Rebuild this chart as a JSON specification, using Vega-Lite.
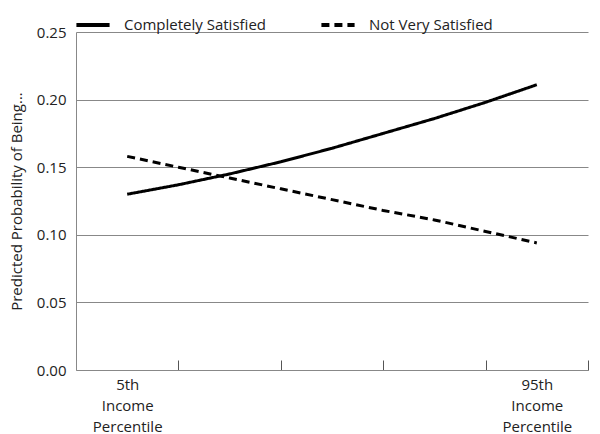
{
  "$schema": "https://vega.github.io/schema/vega-lite/v6.json",
  "width": 512,
  "height": 338,
  "autosize": "none",
  "padding": {"left": 76, "top": 32, "right": 12, "bottom": 64},
  "background": "white",
  "config": {
    "font": "Open Sans",
    "view": {"stroke": null}
  },
  "data": {
    "values": [
      {"pos": 0.5, "prob": 0.130, "series": "Completely Satisfied"},
      {"pos": 1.0, "prob": 0.137, "series": "Completely Satisfied"},
      {"pos": 1.5, "prob": 0.145, "series": "Completely Satisfied"},
      {"pos": 2.0, "prob": 0.154, "series": "Completely Satisfied"},
      {"pos": 2.5, "prob": 0.164, "series": "Completely Satisfied"},
      {"pos": 3.0, "prob": 0.175, "series": "Completely Satisfied"},
      {"pos": 3.5, "prob": 0.186, "series": "Completely Satisfied"},
      {"pos": 4.0, "prob": 0.198, "series": "Completely Satisfied"},
      {"pos": 4.5, "prob": 0.211, "series": "Completely Satisfied"},
      {"pos": 0.5, "prob": 0.158, "series": "Not Very Satisfied"},
      {"pos": 1.0, "prob": 0.150, "series": "Not Very Satisfied"},
      {"pos": 1.5, "prob": 0.142, "series": "Not Very Satisfied"},
      {"pos": 2.0, "prob": 0.134, "series": "Not Very Satisfied"},
      {"pos": 2.5, "prob": 0.126, "series": "Not Very Satisfied"},
      {"pos": 3.0, "prob": 0.118, "series": "Not Very Satisfied"},
      {"pos": 3.5, "prob": 0.111, "series": "Not Very Satisfied"},
      {"pos": 4.0, "prob": 0.1025, "series": "Not Very Satisfied"},
      {"pos": 4.5, "prob": 0.094, "series": "Not Very Satisfied"}
    ]
  },
  "mark": {"type": "line", "color": "black", "strokeWidth": 3},
  "encoding": {
    "x": {
      "field": "pos",
      "type": "quantitative",
      "scale": {"domain": [0, 5], "nice": false, "zero": false},
      "axis": {
        "title": null,
        "values": [0.5, 1, 2, 3, 4, 4.5, 5],
        "grid": false,
        "domainColor": "#888888",
        "tickColor": "#555555",
        "tickSize": -10,
        "tickOpacity": {"condition": {"test": "datum.value % 1 != 0", "value": 0}, "value": 1},
        "labelExpr": "datum.value == 0.5 ? ['5th', 'Income', 'Percentile'] : datum.value == 4.5 ? ['95th', 'Income', 'Percentile'] : ''",
        "labelFontSize": 15,
        "labelLineHeight": 21,
        "labelColor": "#222222",
        "labelPadding": 17,
        "labelFlush": false,
        "labelOverlap": false
      }
    },
    "y": {
      "field": "prob",
      "type": "quantitative",
      "scale": {"domain": [0, 0.25], "nice": false},
      "axis": {
        "title": "Predicted Probability of Being...",
        "titleFontSize": 15,
        "titleFontWeight": "normal",
        "titleColor": "#222222",
        "titlePadding": 12,
        "values": [0, 0.05, 0.1, 0.15, 0.2, 0.25],
        "format": ".2f",
        "grid": true,
        "gridColor": "#888888",
        "gridOpacity": 1,
        "domainColor": "#888888",
        "ticks": false,
        "labelPadding": 10,
        "labelFontSize": 15,
        "labelColor": "#222222"
      }
    },
    "strokeDash": {
      "field": "series",
      "type": "nominal",
      "scale": {
        "domain": ["Completely Satisfied", "Not Very Satisfied"],
        "range": [[1, 0], [8, 5]]
      },
      "legend": {
        "title": null,
        "orient": "none",
        "direction": "horizontal",
        "legendX": -2,
        "legendY": -26,
        "symbolType": "stroke",
        "symbolSize": 1100,
        "symbolStrokeWidth": 4,
        "symbolStrokeColor": "black",
        "labelFontSize": 15,
        "labelColor": "#222222",
        "labelOffset": 12,
        "columnPadding": 47
      }
    }
  }
}
